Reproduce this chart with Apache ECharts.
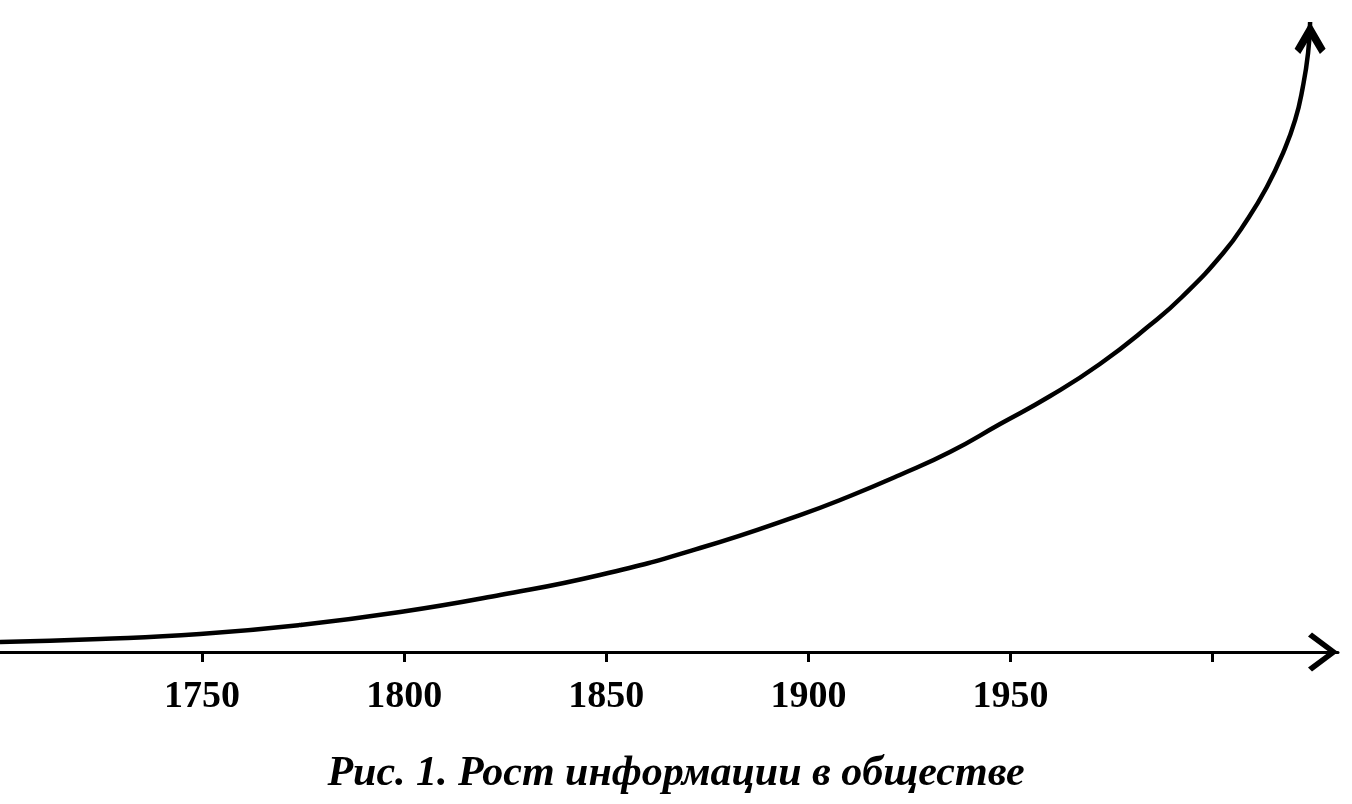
<!DOCTYPE html>
<html>
<head>
<meta charset="utf-8">
<script src="https://cdn.jsdelivr.net/npm/echarts@6/dist/echarts.min.js"></script>
<style>
html,body{margin:0;padding:0;background:#fff;}
#chart{width:1352px;height:804px;}
</style>
</head>
<body>
<div id="chart"></div>
<script>
// Years along the curve
const years = [1700, 1724.7, 1749.5, 1774.2, 1799.0, 1823.7, 1848.4, 1873.2, 1897.9, 1910.3, 1922.6, 1935.0, 1947.4, 1959.8, 1972.1, 1984.5, 1992.4, 2002.6, 2008.5, 2013.4, 2017.4, 2020.4, 2022.3, 2023.6, 2024.1];
// Amount of information (relative units, estimated)
const info = [1.53, 1.99, 2.76, 4.14, 6.13, 8.74, 11.81, 15.95, 21.01, 23.93, 27.15, 30.67, 34.97, 39.26, 44.17, 50.15, 54.45, 61.20, 66.26, 71.32, 76.53, 81.60, 86.66, 91.87, 96.63];
// Axis ticks and labels
const tickYears = [1750, 1800, 1850, 1900, 1950, 2000];
const labelYears = [1750, 1800, 1850, 1900, 1950];
const caption = 'Рис. 1. Рост информации в обществе';

const curveHead = 'path://M15,0 L30,26 L24.5,31 L15,15 L5.5,31 L0,26 Z';
const axisHead = 'path://M19.5,0 L39,26 L35,30 L19.5,9 L4,30 L0,26 Z';

const chart = echarts.init(document.getElementById('chart'), null, {renderer: 'canvas'});
const lastIdx = years.length - 1;
chart.setOption({
  backgroundColor: '#fff',
  animation: false,
  title: {
    text: caption,
    left: 'center',
    top: 748,
    textStyle: {
      fontFamily: 'Liberation Serif',
      fontStyle: 'italic',
      fontWeight: 'bold',
      fontSize: 42,
      color: '#000'
    }
  },
  grid: {left: 0, top: 0, width: 1338, height: 652, containLabel: false},
  xAxis: {
    type: 'value',
    min: 1700,
    max: 2031,
    interval: 50,
    splitLine: {show: false},
    axisLine: {
      show: true,
      onZero: false,
      lineStyle: {color: '#000', width: 3},
      symbol: ['none', axisHead],
      symbolSize: [39, 30],
      symbolOffset: [0, -15]
    },
    axisTick: {
      show: true,
      length: 10,
      lineStyle: {color: '#000', width: 3},
      customValues: tickYears
    },
    axisLabel: {
      show: true,
      customValues: labelYears,
      formatter: v => String(v),
      margin: 26,
      fontFamily: 'Liberation Serif',
      fontWeight: 'bold',
      fontSize: 38,
      color: '#000'
    }
  },
  yAxis: {
    type: 'value',
    min: 0,
    max: 100,
    show: false
  },
  series: [{
    type: 'line',
    data: years.map((y, i) => i === lastIdx ? {
      value: [y, info[i]],
      symbol: curveHead,
      symbolSize: [31, 32],
      symbolOffset: [0, '50%'],
      itemStyle: {color: '#000', borderWidth: 0}
    } : {value: [y, info[i]], symbol: 'none'}),
    smooth: 0.5,
    clip: false,
    showSymbol: true,
    lineStyle: {color: '#000', width: 4.5},
    itemStyle: {color: '#000'}
  }]
});
</script>
</body>
</html>
